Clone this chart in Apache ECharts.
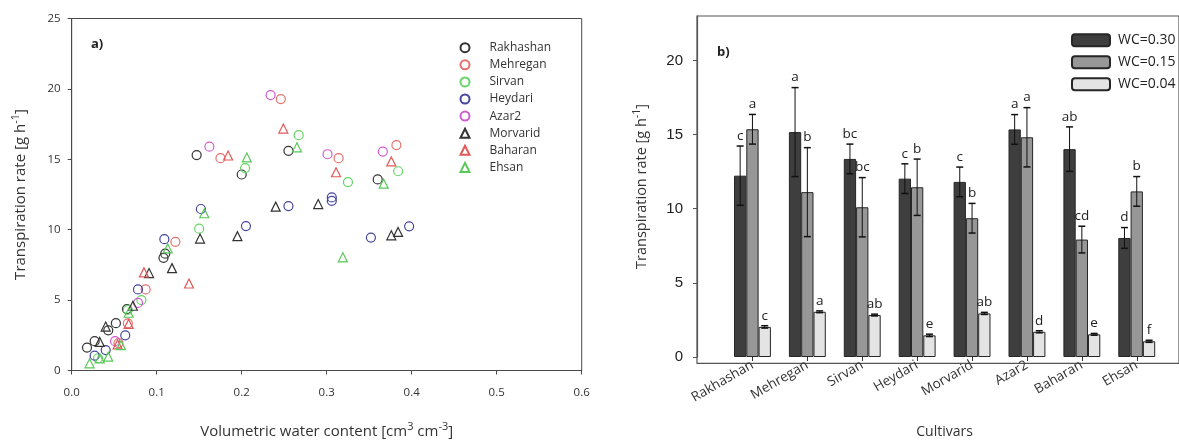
<!DOCTYPE html>
<html>
<head>
<meta charset="utf-8">
<script src="https://cdn.jsdelivr.net/npm/echarts@6/dist/echarts.min.js"></script>
<style>html,body{margin:0;padding:0;background:#fff;overflow:hidden}#c{width:1179px;height:444px}</style>
</head>
<body>
<div id="c"></div>
<script>
// ---------- Panel a data: [volumetric water content, transpiration rate] ----------
const cultivarNames = ['Rakhashan','Mehregan','Sirvan','Heydari','Azar2','Morvarid','Baharan','Ehsan'];
const rakhashan = [[0.018,1.63],[0.027,2.08],[0.043,2.85],[0.052,3.36],[0.065,4.36],[0.108,8.0],[0.110,8.3],[0.147,15.3],[0.200,13.92],[0.255,15.6],[0.360,13.57]];
const mehregan  = [[0.055,1.95],[0.066,3.35],[0.087,5.76],[0.122,9.14],[0.175,15.08],[0.246,19.28],[0.314,15.08],[0.382,16.01]];
const sirvan    = [[0.031,0.87],[0.066,4.3],[0.082,5.0],[0.150,10.07],[0.204,14.38],[0.267,16.71],[0.325,13.38],[0.384,14.15]];
const heydari   = [[0.027,1.05],[0.040,1.45],[0.063,2.5],[0.078,5.76],[0.109,9.33],[0.152,11.47],[0.205,10.26],[0.255,11.68],[0.306,12.29],[0.306,12.05],[0.352,9.44],[0.397,10.24]];
const azar2     = [[0.051,2.08],[0.078,4.8],[0.162,15.9],[0.234,19.56],[0.301,15.36],[0.366,15.55]];
const morvarid  = [[0.033,2.03],[0.040,3.12],[0.072,4.6],[0.091,6.92],[0.118,7.27],[0.151,9.37],[0.195,9.54],[0.240,11.64],[0.290,11.82],[0.376,9.6],[0.384,9.84]];
const baharan   = [[0.054,1.85],[0.067,3.31],[0.085,6.97],[0.138,6.18],[0.184,15.27],[0.249,17.18],[0.311,14.08],[0.376,14.85]];
const ehsan     = [[0.021,0.51],[0.033,0.86],[0.043,0.98],[0.058,1.8],[0.067,4.1],[0.113,8.67],[0.156,11.17],[0.206,15.13],[0.265,15.85],[0.319,8.04],[0.367,13.27]];
const scatterData = [rakhashan, mehregan, sirvan, heydari, azar2, morvarid, baharan, ehsan];

// ---------- Panel b data ----------
const cultivars = ['Rakhashan','Mehregan','Sirvan','Heydari','Morvarid','Azar2','Baharan','Ehsan'];
const wcNames = ['WC=0.30','WC=0.15','WC=0.04'];
const wc030 = [12.23,15.17,13.36,12.03,11.81,15.35,14.02,8.03];
const wc015 = [15.36,11.12,10.10,11.45,9.36,14.82,7.92,11.17];
const wc004 = [2.03,3.05,2.83,1.46,2.94,1.70,1.53,1.06];
const err030 = [2.0,3.0,1.0,1.0,1.0,1.0,1.5,0.7];
const err015 = [1.0,3.0,2.0,1.9,1.0,2.0,0.9,1.0];
const err004 = [0.08,0.06,0.06,0.08,0.07,0.07,0.06,0.07];
const let030 = ['c','a','bc','c','c','a','ab','d'];
const let015 = ['a','b','bc','b','b','a','cd','b'];
const let004 = ['c','a','ab','e','ab','d','e','f'];
const xTicksA = [0,0.1,0.2,0.3,0.4,0.5,0.6];

// ---------- styles ----------
const FONT = '"Open Sans", sans-serif';
const symColors = ['#333333','#e6706c','#63d463','#45459e','#d05ad0','#333333','#e05a5a','#58c858'];
const symbols = ['circle','circle','circle','circle','circle','triangle','triangle','triangle'];
const barColors = ['#3e3e3e','#979797','#e4e4e4'];
const BAR_FRAC = 0.224;
const means = [wc030, wc015, wc004], errs = [err030, err015, err004], lets = [let030, let015, let004];

const series = [];
scatterData.forEach((d, i) => {
  series.push({
    name: cultivarNames[i], type: 'scatter', xAxisIndex: 0, yAxisIndex: 0,
    data: d, symbol: symbols[i], symbolSize: 9,
    itemStyle: { color: 'rgba(255,255,255,0)', borderColor: symColors[i], borderWidth: 1.2, opacity: 1 },
    emphasis: { disabled: true }
  });
});
means.forEach((m, k) => {
  series.push({
    name: wcNames[k], type: 'bar', xAxisIndex: 1, yAxisIndex: 1,
    data: m, barWidth: (BAR_FRAC * 100) + '%', barGap: '0%',
    itemStyle: { color: barColors[k], borderColor: '#262626', borderWidth: 1 },
    emphasis: { disabled: true }
  });
});
means.forEach((m, k) => {
  series.push({
    name: 'err' + k, type: 'custom', xAxisIndex: 1, yAxisIndex: 1, z: 5,
    data: m.map((v, i) => [i, v, errs[k][i]]),
    renderItem: function (params, api) {
      const i = api.value(0), v = api.value(1), e = api.value(2);
      const band = api.size([1, 0])[0];
      const bw = band * BAR_FRAC;
      const cx = api.coord([i, 0])[0] + (k - 1) * bw;
      const yT = api.coord([i, v + e])[1], yB = api.coord([i, v - e])[1];
      const cap = 3.5;
      return { type: 'group', children: [
        { type: 'line', shape: { x1: cx, y1: yT, x2: cx, y2: yB }, style: { stroke: '#111', lineWidth: 1 } },
        { type: 'line', shape: { x1: cx - cap, y1: yT, x2: cx + cap, y2: yT }, style: { stroke: '#111', lineWidth: 1.5 } },
        { type: 'line', shape: { x1: cx - cap, y1: yB, x2: cx + cap, y2: yB }, style: { stroke: '#111', lineWidth: 1.5 } },
        { type: 'text', style: { text: lets[k][params.dataIndex], x: cx, y: yT - 3, textAlign: 'center', textVerticalAlign: 'bottom', fontFamily: FONT, fontSize: 13.5, fill: '#222' } }
      ]};
    }
  });
});

const richA = {
  a: { fontFamily: FONT, fontSize: 15, color: '#333' },
  s: { fontFamily: FONT, fontSize: 11, color: '#333', verticalAlign: 'top', padding: [0, 0, 9, 0] }
};
const richB = {
  a: { fontFamily: FONT, fontSize: 14.5, color: '#333' },
  s: { fontFamily: FONT, fontSize: 10.5, color: '#333', verticalAlign: 'top', padding: [0, 0, 8, 0] }
};

const option = {
  animation: false,
  backgroundColor: '#fff',
  grid: [
    { left: 71.7, top: 18.5, width: 510, height: 357.2, show: true, borderColor: '#4a4a4a', borderWidth: 1, backgroundColor: 'transparent' },
    { left: 725, top: 16, width: 439.2, height: 347.3 },
    { left: 697, top: 16, width: 500, height: 347.3, show: true, borderColor: '#555', borderWidth: 1.2, backgroundColor: 'transparent' }
  ],
  xAxis: [
    { gridIndex: 0, type: 'value', min: 0, max: 0.6, interval: 0.1,
      axisLine: { show: true, lineStyle: { color: '#4a4a4a', width: 1 } },
      axisTick: { show: true, length: 4, lineStyle: { color: '#4a4a4a' } },
      splitLine: { show: false },
      axisLabel: { margin: 16, fontFamily: FONT, fontSize: 11.5, color: '#333', formatter: v => xTicksA.indexOf(+v.toFixed(1)) >= 0 ? v.toFixed(1) : '' },
      name: '{a|Volumetric water content [cm}{s|3}{a| cm}{s|-3}{a|]}', nameLocation: 'middle', nameGap: 51,
      nameTextStyle: { rich: richA } },
    { gridIndex: 1, type: 'category', data: cultivars,
      axisLine: { show: false },
      axisTick: { show: true, alignWithLabel: true, length: 4, lineStyle: { color: '#333' } },
      axisLabel: { rotate: 30, margin: 7, fontFamily: FONT, fontSize: 13.5, color: '#333' },
      name: 'Cultivars', nameLocation: 'middle', nameGap: 68,
      nameTextStyle: { fontFamily: FONT, fontSize: 14, color: '#333' } },
    { gridIndex: 2, type: 'value', show: false, min: 0, max: 1 }
  ],
  yAxis: [
    { gridIndex: 0, type: 'value', min: 0, max: 25, interval: 5,
      axisLine: { show: true, lineStyle: { color: '#4a4a4a', width: 1 } },
      axisTick: { show: true, length: 4, lineStyle: { color: '#4a4a4a' } },
      splitLine: { show: false },
      axisLabel: { margin: 11, fontFamily: FONT, fontSize: 11.5, color: '#333' },
      name: '{a|Transpiration rate [g h}{s|-1}{a|]}', nameLocation: 'middle', nameGap: 41,
      nameTextStyle: { rich: richA } },
    { gridIndex: 1, type: 'value', min: 0, max: 23, interval: 5, offset: 28,
      axisLine: { show: true, lineStyle: { color: '#555', width: 1.2 } },
      axisTick: { show: true, length: 4, lineStyle: { color: '#555' } },
      splitLine: { show: false },
      axisLabel: { margin: 14, showMaxLabel: false, fontFamily: '"Liberation Sans", Arial, sans-serif', fontSize: 15, color: '#222' },
      name: '{a|Transpiration rate [g h}{s|-1}{a|]}', nameLocation: 'middle', nameGap: 46,
      nameTextStyle: { rich: richB } },
    { gridIndex: 2, type: 'value', show: false, min: 0, max: 1 }
  ],
  legend: [
    { data: cultivarNames, orient: 'vertical', left: 454.5, top: 36.7, itemWidth: 9, itemHeight: 9, itemGap: 5.1,
      textStyle: { fontFamily: FONT, fontSize: 12, color: '#333', lineHeight: 12, padding: [0, 0, 0, 15] }, selectedMode: false },
    { data: wcNames, orient: 'vertical', left: 1066, top: 28.3, itemWidth: 38, itemHeight: 12, itemGap: 8,
      textStyle: { fontFamily: FONT, fontSize: 14, color: '#222', lineHeight: 12, padding: [0, 0, 0, 3] }, selectedMode: false }
  ],
  graphic: [
    { type: 'text', left: 91, top: 38, style: { text: 'a)', fontFamily: FONT, fontSize: 13, fontWeight: 'bold', fill: '#222' } },
    { type: 'text', left: 717, top: 46, style: { text: 'b)', fontFamily: FONT, fontSize: 13, fontWeight: 'bold', fill: '#222' } }
  ],
  series: series
};
const chart = echarts.init(document.getElementById('c'));
chart.setOption(option);
</script>
</body>
</html>
